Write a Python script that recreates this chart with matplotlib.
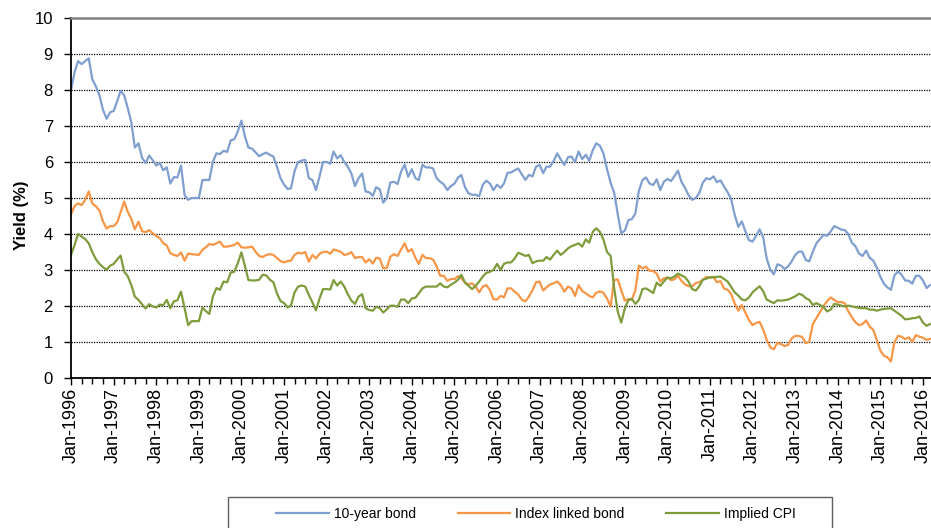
import numpy as np
import pandas as pd
import matplotlib
matplotlib.use('Agg')
import matplotlib.pyplot as plt
import matplotlib.dates as mdates
from matplotlib.patches import Rectangle

plt.rcParams['font.family'] = ['Liberation Sans', 'DejaVu Sans']

# monthly yields, Jan-1996 .. Mar-2016 (one row per year)
bond_10yr = [
    8.0, 8.5, 8.8, 8.72, 8.8, 8.88, 8.3, 8.1, 7.85, 7.45, 7.2, 7.38,
    7.42, 7.7, 7.98, 7.85, 7.5, 7.1, 6.4, 6.52, 6.12, 5.97, 6.18, 6.05,
    5.9, 5.97, 5.77, 5.85, 5.4, 5.58, 5.57, 5.9, 5.08, 4.95, 5.0, 5.0,
    5.0, 5.5, 5.5, 5.5, 6.0, 6.24, 6.22, 6.31, 6.28, 6.6, 6.63, 6.85,
    7.15, 6.7, 6.4, 6.37, 6.27, 6.16, 6.22, 6.26, 6.2, 6.15, 5.87, 5.55,
    5.37, 5.25, 5.27, 5.75, 6.0, 6.04, 6.06, 5.55, 5.5, 5.22, 5.6, 6.0,
    6.0, 5.95, 6.29, 6.1, 6.19, 6.0, 5.87, 5.68, 5.33, 5.55, 5.68, 5.18,
    5.16, 5.06, 5.3, 5.24, 4.87, 5.0, 5.43, 5.45, 5.39, 5.73, 5.93, 5.59,
    5.8, 5.55, 5.5, 5.92, 5.85, 5.85, 5.82, 5.55, 5.45, 5.38, 5.22, 5.33,
    5.4, 5.57, 5.64, 5.3, 5.13, 5.09, 5.09, 5.05, 5.37, 5.48, 5.4, 5.22,
    5.37, 5.28, 5.4, 5.7, 5.71, 5.77, 5.82, 5.66, 5.5, 5.64, 5.6, 5.87,
    5.92, 5.69, 5.87, 5.87, 6.03, 6.24, 6.07, 5.92, 6.13, 6.15, 6.0, 6.29,
    6.08, 6.2, 6.03, 6.33, 6.52, 6.45, 6.24, 5.8, 5.42, 5.15, 4.55, 4.02,
    4.1, 4.39, 4.41, 4.57, 5.2, 5.5, 5.57, 5.4, 5.36, 5.52, 5.22, 5.45,
    5.53, 5.47, 5.6, 5.76, 5.45, 5.28, 5.08, 4.95, 5.0, 5.14, 5.43, 5.55,
    5.52, 5.6, 5.44, 5.49, 5.32, 5.16, 4.97, 4.53, 4.2, 4.35, 4.07, 3.83,
    3.79, 3.95, 4.13, 3.91, 3.32, 3.01, 2.88, 3.16, 3.12, 3.03, 3.1, 3.24,
    3.42, 3.51, 3.51, 3.28, 3.24, 3.51, 3.74, 3.86, 3.98, 3.95, 4.07, 4.22,
    4.17, 4.12, 4.11, 4.0, 3.76, 3.66, 3.46, 3.39, 3.54, 3.34, 3.26, 3.07,
    2.81, 2.62, 2.52, 2.45, 2.85, 2.96, 2.87, 2.71, 2.7, 2.62, 2.84, 2.84,
    2.71, 2.5, 2.58,
]

index_linked = [
    4.55, 4.78, 4.85, 4.8, 4.95, 5.18, 4.85, 4.77, 4.65, 4.35, 4.15, 4.22,
    4.22, 4.33, 4.6, 4.9, 4.62, 4.42, 4.13, 4.34, 4.08, 4.05, 4.11, 4.02,
    3.95, 3.88, 3.75, 3.68, 3.47, 3.42, 3.39, 3.49, 3.26, 3.46, 3.44, 3.43,
    3.42, 3.56, 3.63, 3.72, 3.7, 3.74, 3.79, 3.65, 3.65, 3.67, 3.7, 3.76,
    3.63, 3.62, 3.63, 3.65, 3.51, 3.39, 3.36, 3.42, 3.44, 3.42, 3.33, 3.25,
    3.21, 3.25, 3.26, 3.42, 3.48, 3.46, 3.5, 3.23, 3.42, 3.32, 3.45, 3.5,
    3.51, 3.45, 3.57, 3.54, 3.51, 3.42, 3.44, 3.5, 3.33, 3.36, 3.36, 3.21,
    3.3, 3.18, 3.34, 3.32, 3.05, 3.06, 3.37, 3.44, 3.39, 3.57, 3.74, 3.51,
    3.58, 3.34, 3.17, 3.42, 3.33, 3.33, 3.29, 3.1, 2.84, 2.84, 2.7, 2.75,
    2.75, 2.83, 2.77, 2.65, 2.6, 2.63, 2.54, 2.38, 2.54, 2.58, 2.44, 2.19,
    2.18, 2.28, 2.24, 2.49, 2.49, 2.4, 2.32, 2.18, 2.13, 2.26, 2.44, 2.66,
    2.68, 2.43, 2.52, 2.6, 2.63, 2.68, 2.58, 2.4, 2.54, 2.49, 2.28, 2.58,
    2.42, 2.35, 2.28, 2.24, 2.37, 2.4, 2.37, 2.21, 1.99, 2.72, 2.74, 2.44,
    2.15, 2.19, 2.17, 2.44, 3.12, 3.05, 3.09, 2.98, 2.97, 2.9, 2.68, 2.77,
    2.79, 2.72, 2.74, 2.84, 2.7, 2.6, 2.55, 2.55, 2.64, 2.66, 2.73, 2.81,
    2.78, 2.81, 2.66, 2.69, 2.49, 2.45, 2.34, 2.07, 1.87, 2.03, 1.81, 1.61,
    1.47, 1.53, 1.56, 1.35, 1.06, 0.85, 0.8, 0.98, 0.94, 0.89, 0.92, 1.1,
    1.17, 1.17, 1.14, 0.97, 1.01, 1.5, 1.66, 1.83, 2.0, 2.13, 2.24, 2.17,
    2.11, 2.11, 2.08, 1.85, 1.69, 1.55, 1.47, 1.5, 1.6, 1.43, 1.34, 1.05,
    0.76, 0.62, 0.58, 0.46, 0.99, 1.17, 1.15, 1.08, 1.13, 1.01, 1.19, 1.15,
    1.12, 1.06, 1.08,
]

implied_cpi = [
    3.42, 3.7, 4.0, 3.93, 3.86, 3.74, 3.5, 3.3, 3.17, 3.08, 3.01, 3.12,
    3.17, 3.3, 3.4, 2.95, 2.83, 2.58, 2.26, 2.17, 2.05, 1.93, 2.05, 1.99,
    1.96, 2.04, 2.02, 2.17, 1.94, 2.13, 2.16, 2.4, 1.94, 1.47, 1.58, 1.58,
    1.58, 1.96, 1.86, 1.78, 2.26, 2.5, 2.45, 2.68, 2.66, 2.93, 2.95, 3.19,
    3.49, 3.1, 2.72, 2.71, 2.71, 2.73, 2.87, 2.85, 2.73, 2.66, 2.35, 2.14,
    2.08, 1.96, 2.02, 2.38, 2.54, 2.57, 2.54, 2.31, 2.1, 1.88, 2.21, 2.47,
    2.47, 2.46, 2.72, 2.57, 2.68, 2.54, 2.33, 2.15, 2.06, 2.26, 2.33, 1.94,
    1.89, 1.87, 1.98, 1.94, 1.82, 1.91, 2.01, 2.01, 1.98, 2.18, 2.18, 2.08,
    2.21, 2.23, 2.35, 2.49, 2.54, 2.54, 2.54, 2.54, 2.63, 2.54, 2.52, 2.59,
    2.65, 2.73, 2.87, 2.65, 2.56, 2.47, 2.56, 2.68, 2.82, 2.92, 2.95, 3.0,
    3.17, 3.0, 3.17, 3.21, 3.21, 3.32, 3.48, 3.44, 3.39, 3.42, 3.19, 3.24,
    3.26, 3.26, 3.36, 3.29, 3.42, 3.54, 3.42, 3.5, 3.6, 3.66, 3.7, 3.74,
    3.65, 3.85, 3.76, 4.06, 4.16, 4.06, 3.85, 3.5, 3.39, 2.5, 1.84, 1.54,
    1.94, 2.17, 2.2, 2.06, 2.17, 2.47, 2.49, 2.43, 2.36, 2.65, 2.56, 2.68,
    2.79, 2.77, 2.82, 2.9, 2.85, 2.8, 2.68, 2.47, 2.43, 2.55, 2.73, 2.76,
    2.8, 2.8, 2.81, 2.82, 2.75, 2.68, 2.53, 2.38, 2.29, 2.18, 2.16, 2.24,
    2.38, 2.47, 2.55, 2.41, 2.18, 2.13, 2.08, 2.16, 2.15, 2.16, 2.18, 2.22,
    2.27, 2.34, 2.31, 2.22, 2.17, 2.03, 2.08, 2.03, 1.97, 1.85, 1.9, 2.06,
    2.04, 2.01, 1.99, 2.01, 1.99, 1.97, 1.95, 1.94, 1.94, 1.9, 1.9, 1.87,
    1.9, 1.92, 1.93, 1.94, 1.87, 1.8, 1.73, 1.63, 1.64, 1.66, 1.67, 1.71,
    1.54, 1.45, 1.5,
]

series_names = ['10-year bond', 'Index linked bond', 'Implied CPI']
series_colors = ['#7F9FCF', '#F79646', '#7F9C3C']

dates = pd.date_range('1996-01-01', periods=len(bond_10yr), freq='MS')

fig = plt.figure(figsize=(9.31, 5.28), dpi=100)
ax = fig.add_axes([0.0763, 0.284, 0.9237, 0.682])

for vals, name, col in zip([bond_10yr, index_linked, implied_cpi], series_names, series_colors):
    ax.plot(dates, vals, color=col, linewidth=1.6, label=name)

ax.set_ylim(0, 10)
ax.set_yticks(np.arange(0, 11, 1))
ax.set_xlim(pd.Timestamp('1996-01-01'), pd.Timestamp('2016-03-10'))

# dotted grid lines like the excel chart
for yv in range(1, 10):
    ax.axhline(yv, color='black', linewidth=0.9, linestyle=(0, (1, 1)), zorder=0)

ax.xaxis.set_major_locator(mdates.YearLocator(1, month=1, day=1))
ax.xaxis.set_major_formatter(mdates.DateFormatter('%b-%Y'))
ax.xaxis.set_minor_locator(mdates.MonthLocator(bymonth=[1, 4, 7, 10]))
ax.tick_params(axis='x', which='major', length=5, width=1, pad=2, labelsize=13,
               labelrotation=90)
ax.tick_params(axis='x', which='minor', length=4, width=1)
ax.tick_params(axis='y', length=5, width=1, pad=8, labelsize=12)

ax.spines['left'].set_color('black')
ax.spines['left'].set_linewidth(1.3)
ax.spines['bottom'].set_color('black')
ax.spines['bottom'].set_linewidth(1.3)
ax.spines['top'].set_color('#808080')
ax.spines['top'].set_linewidth(1.8)
ax.spines['right'].set_visible(False)

ax.set_ylabel('Yield (%)', fontsize=12, fontweight='bold')
ax.yaxis.set_label_coords(-0.049, 0.453)

# legend, box runs off the bottom of the picture
fig.patches.append(Rectangle((228 / 931, -0.05), 604 / 931, 0.05 + 31 / 528,
                             transform=fig.transFigure, facecolor='white',
                             edgecolor='#606060', linewidth=1.0))
leg = fig.legend(loc='center', bbox_to_anchor=(536 / 931, 1 - 514 / 528), ncol=3,
                 frameon=False, fontsize=10, handlelength=3.8, handletextpad=0.36,
                 columnspacing=3.0)

fig.savefig('out.png', dpi=100)
